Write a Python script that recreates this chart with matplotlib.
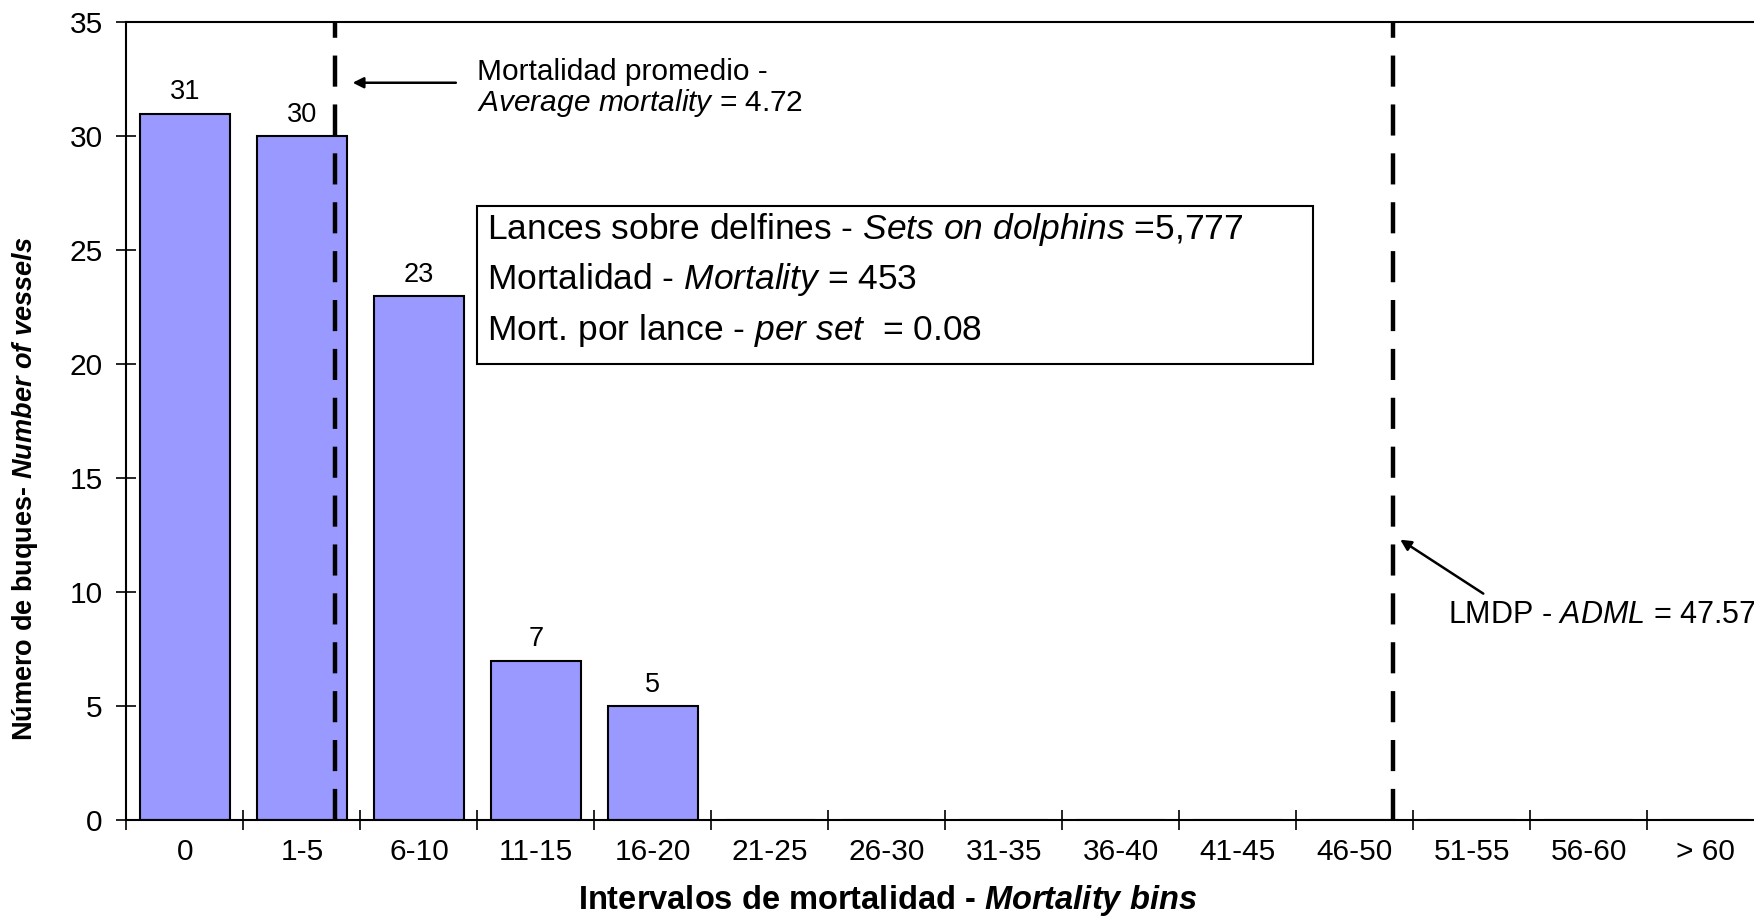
import matplotlib
matplotlib.use("Agg")
import matplotlib.pyplot as plt
from matplotlib.patches import Rectangle

plt.rcParams['font.family'] = ['Liberation Sans', 'DejaVu Sans']
plt.rcParams['mathtext.fontset'] = 'custom'
plt.rcParams['mathtext.rm'] = 'Liberation Sans'
plt.rcParams['mathtext.it'] = 'Liberation Sans:italic'
plt.rcParams['mathtext.bf'] = 'Liberation Sans:bold'
plt.rcParams['mathtext.bfit'] = 'Liberation Sans:italic:bold'

# data
bins = ['0', '1-5', '6-10', '11-15', '16-20', '21-25', '26-30', '31-35',
        '36-40', '41-45', '46-50', '51-55', '56-60', '> 60']
vessels = [31, 30, 23, 7, 5, 0, 0, 0, 0, 0, 0, 0, 0, 0]
y_ticks = [0, 5, 10, 15, 20, 25, 30, 35]

avg_mort = 4.72
adml = 47.57
# where the reference lines sit on the category axis
avg_pos = 1.28
adml_pos = 10.33

box_lines = [r'Lances sobre delfines - $\mathit{Sets\ on\ dolphins}$ =5,777',
             r'Mortalidad - $\mathit{Mortality}$ = 453',
             r'Mort. por lance - $\mathit{per\ set}$  = 0.08']

fig = plt.figure(figsize=(17.54, 9.23), dpi=100)
ax = fig.add_axes([0.0721, 0.1115, 0.9336, 0.8643])

x = list(range(len(bins)))
ax.bar(x, vessels, width=0.765, color='#9999FF', edgecolor='black', linewidth=1.5, zorder=2)
for xi, v in zip(x, vessels):
    if v > 0:
        ax.annotate(str(v), (xi, v), xytext=(0, 6), textcoords='offset points',
                    ha='center', va='bottom', fontsize=19.5)

ax.set_xlim(-0.5, len(bins) - 0.5)
ax.set_ylim(0, 35)
ax.set_yticks(y_ticks)
ax.set_xticks(x)
ax.set_xticklabels(bins)
ax.set_xticks([i - 0.5 for i in range(len(bins) + 1)], minor=True)
ax.tick_params(axis='x', which='major', length=0, pad=13, labelsize=21.5)
ax.tick_params(axis='x', which='minor', direction='inout', length=14, width=1.2)
ax.tick_params(axis='y', direction='inout', length=14, width=1.2, pad=10, labelsize=21.5)
for s in ax.spines.values():
    s.set_linewidth(1.5)

# reference lines
ax.axvline(avg_pos, color='black', lw=3.2, linestyle=(0, (7, 4)), zorder=3)
ax.axvline(adml_pos, color='black', lw=3.2, linestyle=(0, (7, 4)), zorder=3)

ax.annotate('', xy=(1.41, 32.35), xytext=(2.34, 32.35),
            arrowprops=dict(arrowstyle='-|>', color='black', lw=1.8, mutation_scale=16))
ax.text(2.5, 32.1, 'Mortalidad promedio -\n' + r'$\mathit{Average\ mortality}$ = %.2f' % avg_mort,
        fontsize=21.5, va='center', ha='left', linespacing=1.05)

ax.annotate('', xy=(10.37, 12.37), xytext=(11.12, 9.87),
            arrowprops=dict(arrowstyle='-|>', color='black', lw=1.8, mutation_scale=16))
ax.text(10.80, 8.98, r'LMDP - $\mathit{ADML}$ = %.2f' % adml, fontsize=22,
        va='center', ha='left')

# info box
ax.add_patch(Rectangle((2.5, 20.03), 9.64 - 2.5, 26.95 - 20.03, facecolor='white',
                       edgecolor='black', lw=1.5, zorder=4))
for yy, line in zip([25.92, 23.71, 21.5], box_lines):
    ax.text(2.58, yy, line, fontsize=25.5, va='center', ha='left', zorder=5)

ax.set_xlabel(r'Intervalos de mortalidad - $\mathbfit{Mortality\ bins}$',
              fontsize=23.5, fontweight='bold')
ax.xaxis.set_label_coords(0.465, -0.101)
ax.xaxis.label.set_va('center')
ax.set_ylabel(r'Número de buques- $\mathbfit{Number\ of\ vessels}$',
              fontsize=19.5, fontweight='bold')
ax.yaxis.set_label_coords(-0.062, 0.415)
ax.yaxis.label.set_va('center')

fig.savefig('out.png', dpi=100)
